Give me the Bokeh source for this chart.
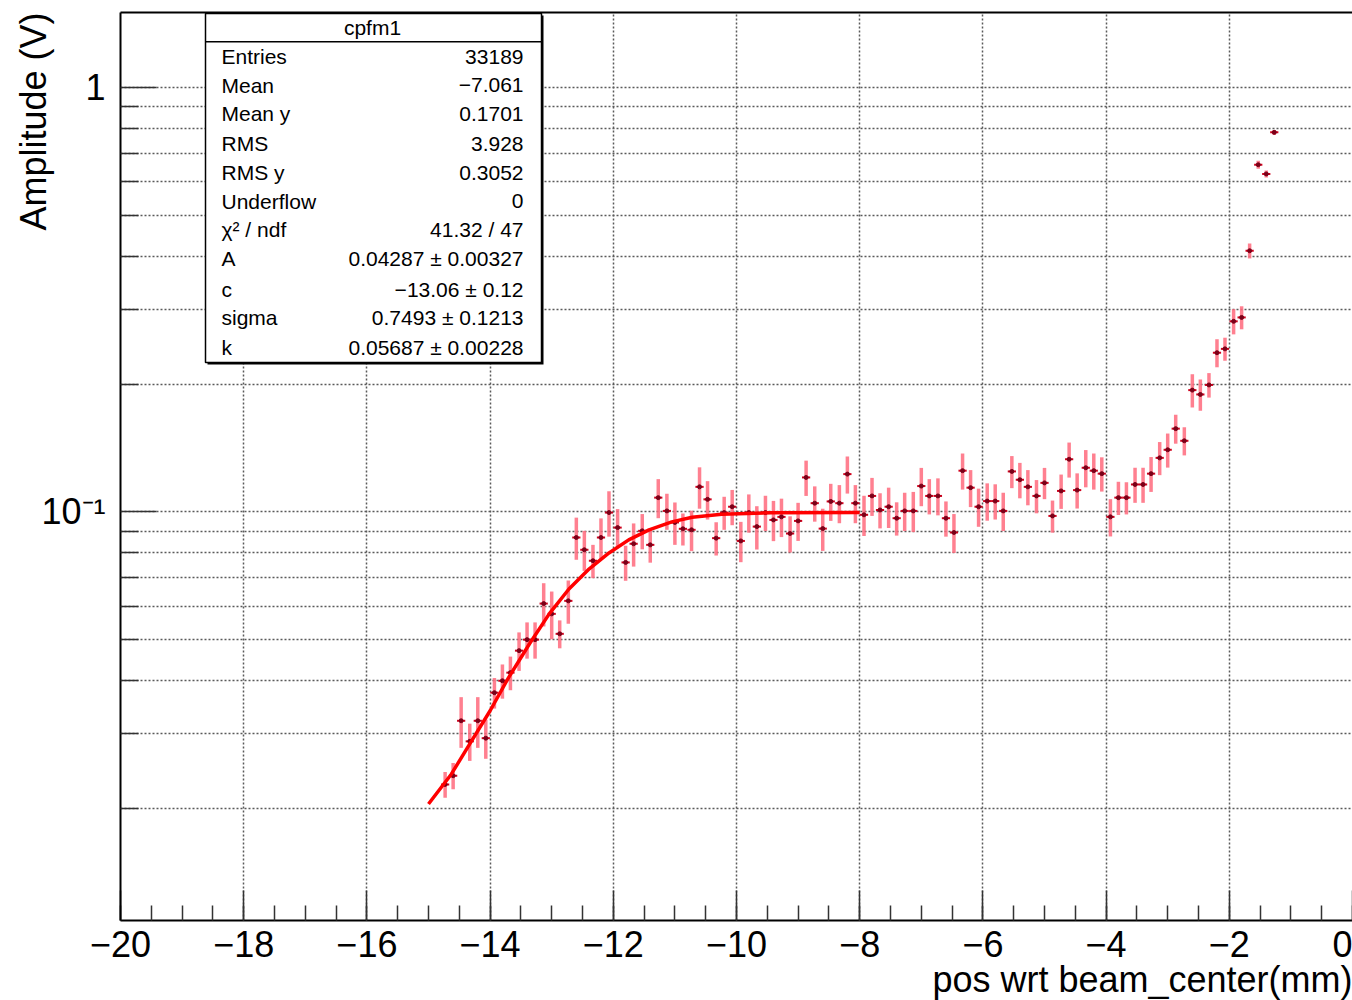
import numpy as np
from bokeh.plotting import figure
from bokeh.models import (ColumnDataSource, Range1d, LinearAxis, FixedTicker,
                          SingleIntervalTicker, Label, BoxAnnotation, Title)
from bokeh.embed import file_html
from bokeh.resources import INLINE

# ---- histogram cpfm1: bin centres, amplitude and its error ----
pos = [-14.73, -14.60, -14.47, -14.33, -14.20, -14.07, -13.93, -13.80, -13.67, -13.53,
       -13.40, -13.27, -13.13, -13.00, -12.87, -12.73, -12.60, -12.47, -12.33, -12.20,
       -12.07, -11.93, -11.80, -11.67, -11.53, -11.40, -11.27, -11.13, -11.00, -10.87,
       -10.73, -10.60, -10.47, -10.33, -10.20, -10.07, -9.93, -9.80, -9.67, -9.53,
       -9.40, -9.27, -9.13, -9.00, -8.87, -8.73, -8.60, -8.47, -8.33, -8.20,
       -8.07, -7.93, -7.80, -7.67, -7.53, -7.40, -7.27, -7.13, -7.00, -6.87,
       -6.73, -6.60, -6.47, -6.33, -6.20, -6.07, -5.93, -5.80, -5.67, -5.53,
       -5.40, -5.27, -5.13, -5.00, -4.87, -4.73, -4.60, -4.47, -4.33, -4.20,
       -4.07, -3.93, -3.80, -3.67, -3.53, -3.40, -3.27, -3.13, -3.00, -2.87,
       -2.73, -2.60, -2.47, -2.33, -2.20, -2.07, -1.93, -1.80, -1.67, -1.53,
       -1.40, -1.27]

amp = [0.0228, 0.0239, 0.0322, 0.0288, 0.0322, 0.0293, 0.0375, 0.0400, 0.0418, 0.0471,
       0.0500, 0.0500, 0.0608, 0.0575, 0.0516, 0.0617, 0.0870, 0.0814, 0.0767, 0.0870,
       0.0996, 0.0918, 0.0760, 0.0841, 0.0902, 0.0836, 0.1080, 0.1005, 0.0944, 0.0912,
       0.0907, 0.1145, 0.1070, 0.0867, 0.0996, 0.1028, 0.0854, 0.0996, 0.0923, 0.0996,
       0.0957, 0.0973, 0.0889, 0.0952, 0.1205, 0.1048, 0.0913, 0.1058, 0.1048, 0.1227,
       0.1048, 0.0984, 0.1090, 0.1010, 0.1028, 0.0966, 0.1005, 0.1005, 0.1150, 0.1090,
       0.1090, 0.0966, 0.0894, 0.1250, 0.1140, 0.1028, 0.1060, 0.1060, 0.1005, 0.1245,
       0.1190, 0.1145, 0.1090, 0.1170, 0.0978, 0.1120, 0.1330, 0.1125, 0.1270, 0.1250,
       0.1230, 0.0973, 0.1080, 0.1080, 0.1160, 0.1160, 0.1230, 0.1340, 0.1400, 0.1570,
       0.1470, 0.1935, 0.1890, 0.1990, 0.2370, 0.2420, 0.2810, 0.2870, 0.4120, 0.6570,
       0.6250, 0.7830]

amp_err = [0.0016, 0.0017, 0.0044, 0.0029, 0.0044, 0.0031, 0.0031, 0.0037, 0.0038, 0.0049,
           0.0049, 0.0049, 0.0071, 0.0074, 0.0039, 0.0072, 0.0099, 0.0088, 0.0069, 0.0095,
           0.0122, 0.0097, 0.0072, 0.0098, 0.0086, 0.0077, 0.0114, 0.0098, 0.0108, 0.0079,
           0.0099, 0.0128, 0.0111, 0.0078, 0.0089, 0.0098, 0.0093, 0.0103, 0.0108, 0.0095,
           0.0104, 0.0101, 0.0087, 0.0098, 0.0115, 0.0100, 0.0104, 0.0106, 0.0108, 0.0123,
           0.0108, 0.0107, 0.0112, 0.0096, 0.0112, 0.0087, 0.0104, 0.0109, 0.0119, 0.0104,
           0.0109, 0.0092, 0.0094, 0.0122, 0.0114, 0.0106, 0.0107, 0.0101, 0.0104, 0.0108,
           0.0114, 0.0109, 0.0098, 0.0099, 0.0085, 0.0104, 0.0126, 0.0107, 0.0128, 0.0122,
           0.0114, 0.0098, 0.0097, 0.0094, 0.0110, 0.0110, 0.0116, 0.0120, 0.0129, 0.0123,
           0.0112, 0.0174, 0.0160, 0.0132, 0.0180, 0.0151, 0.0192, 0.0179, 0.0168, 0.0143,
           0.0120, 0.0106]

bin_width = 20.0 / 150

# ---- fitted edge curve ----
fit_x = [-15.0, -14.63, -14.33, -14.0, -13.7, -13.36, -13.04, -12.72, -12.39,
         -12.07, -11.75, -11.42, -11.05, -10.72, -10.24, -9.43, -8.0]
fit_y = [0.0205, 0.0241, 0.0284, 0.0340, 0.0407, 0.0489, 0.0575, 0.0658, 0.0734,
         0.0800, 0.0859, 0.0907, 0.0947, 0.0971, 0.0987, 0.0995, 0.0997]

# ---- statistics box ----
stat_title = "cpfm1"
stat_names = ["Entries", "Mean", "Mean y", "RMS", "RMS y", "Underflow",
              "χ² / ndf", "A", "c", "sigma", "k"]
stat_values = ["33189", "−7.061", "0.1701", "3.928", "0.3052", "0",
               "41.32 / 47", "0.04287 ± 0.00327", "−13.06 ± 0.12",
               "0.7493 ± 0.1213", "0.05687 ± 0.00228"]

x_title = "pos wrt beam_center(mm)"
y_title = "Amplitude (V)"
x_ticks = [-20, -18, -16, -14, -12, -10, -8, -6, -4, -2, 0]
x_tick_labels = ["−20", "−18", "−16", "−14", "−12", "−10", "−8", "−6", "−4", "−2", "0"]
y_ticks = [0.1, 1]
y_tick_labels = ["10⁻¹", "1"]
y_minor = [0.02, 0.03, 0.04, 0.05, 0.06, 0.07, 0.08, 0.09,
           0.2, 0.3, 0.4, 0.5, 0.6, 0.7, 0.8, 0.9]

FONT = "Liberation Sans"
W, H = 1352, 1000
LEFT, TOP, BOTTOM = 120, 12, 80

p = figure(width=W, height=H, y_axis_type="log",
           x_range=Range1d(-20, 0), y_range=Range1d(0.0109, 1.5),
           output_backend="svg", toolbar_location=None,
           min_border_left=LEFT, min_border_right=0,
           min_border_top=TOP, min_border_bottom=BOTTOM)
p.background_fill_color = "white"
p.border_fill_color = "white"
p.outline_line_color = None

# axes
xa = p.xaxis[0]
xa.ticker = SingleIntervalTicker(interval=2, num_minor_ticks=4)
xa.major_label_overrides = dict(zip(x_ticks, x_tick_labels))
ya = p.yaxis[0]
ya.ticker = FixedTicker(ticks=y_ticks, minor_ticks=y_minor)
ya.major_label_overrides = dict(zip(y_ticks, y_tick_labels))

for ax in (xa, ya):
    ax.axis_line_color = "black"
    ax.axis_line_width = 2
    ax.major_tick_out = 0
    ax.minor_tick_out = 0
    ax.major_tick_line_color = "#333333"
    ax.minor_tick_line_color = "#333333"
    ax.major_tick_line_width = 1.5
    ax.minor_tick_line_width = 1.5
    ax.major_label_text_font = FONT
    ax.major_label_text_font_size = "36px"
    ax.major_label_text_color = "black"

xa.major_tick_in = 30
xa.minor_tick_in = 15
xa.major_label_standoff = 10
ya.major_tick_in = 36
ya.minor_tick_in = 18
ya.major_label_standoff = 15

top_axis = LinearAxis(ticker=FixedTicker(ticks=[]), axis_line_width=2,
                      axis_line_color="black", major_tick_out=0, minor_tick_out=0,
                      major_label_text_font_size="0px")
p.add_layout(top_axis, "above")

# axis titles, flush with the far ends of the axes
p.add_layout(Title(text=x_title, align="right", vertical_align="middle",
                   text_font=FONT, text_font_size="36px", text_font_style="normal",
                   text_color="black", standoff=-3), "below")
p.add_layout(Title(text=y_title, align="right", vertical_align="middle",
                   text_font=FONT, text_font_size="36px", text_font_style="normal",
                   text_color="black", standoff=-32), "left")

# dotted grid
for g in (p.xgrid, p.ygrid):
    g.grid_line_color = "#5a5a5a"
    g.grid_line_dash = "2 2"
    g.grid_line_width = 1.5
p.ygrid.minor_grid_line_color = "#5a5a5a"
p.ygrid.minor_grid_line_dash = "2 2"
p.ygrid.minor_grid_line_width = 1.5

# data with error bars
pos_a = np.array(pos)
amp_a = np.array(amp)
err_a = np.array(amp_err)
src = ColumnDataSource(dict(
    x=pos_a, y=amp_a,
    lo=amp_a - err_a, hi=amp_a + err_a,
    xl=pos_a - bin_width / 2, xr=pos_a + bin_width / 2,
))
p.segment(x0="x", y0="lo", x1="x", y1="hi", source=src,
          line_color="#ff6a7d", line_width=3.5, line_alpha=0.85)
p.segment(x0="xl", y0="y", x1="xr", y1="y", source=src,
          line_color="#d0001c", line_width=2)
p.scatter("x", "y", source=src, size=4, color="#7a0018")

# fit curve
p.line(fit_x, fit_y, line_color="red", line_width=3.5)

# statistics box (screen units relative to the frame)
def sx(px):
    return px - LEFT

def sy(py):
    return (H - BOTTOM) - py

box_l, box_r, box_t, box_b = 205, 541, 13, 362
p.add_layout(BoxAnnotation(left=sx(box_l + 2), right=sx(box_r + 2), top=sy(box_t + 2),
                           bottom=sy(box_b + 2), left_units="screen", right_units="screen",
                           top_units="screen", bottom_units="screen",
                           fill_color="black", fill_alpha=1, line_color=None))
p.add_layout(BoxAnnotation(left=sx(box_l), right=sx(box_r), top=sy(box_t), bottom=sy(box_b),
                           left_units="screen", right_units="screen",
                           top_units="screen", bottom_units="screen",
                           fill_color="white", fill_alpha=1,
                           line_color="black", line_width=1.5, line_alpha=1))
p.add_layout(BoxAnnotation(left=sx(box_l), right=sx(box_r), top=sy(40.5), bottom=sy(42),
                           left_units="screen", right_units="screen",
                           top_units="screen", bottom_units="screen",
                           fill_color="black", fill_alpha=1, line_color=None))
p.add_layout(Label(x=sx(372), y=sy(27), x_units="screen", y_units="screen",
                   text=stat_title, text_font=FONT, text_font_size="21px",
                   text_align="center", text_baseline="middle", text_color="black"))

row_y = [56, 84.5, 113, 143, 172, 200.5, 229, 258, 289, 317, 346.5]
for name, val, ry in zip(stat_names, stat_values, row_y):
    p.add_layout(Label(x=sx(221), y=sy(ry), x_units="screen", y_units="screen",
                       text=name, text_font=FONT, text_font_size="21px",
                       text_align="left", text_baseline="middle", text_color="black"))
    p.add_layout(Label(x=sx(523), y=sy(ry), x_units="screen", y_units="screen",
                       text=val, text_font=FONT, text_font_size="21px",
                       text_align="right", text_baseline="middle", text_color="black"))

open("out.html", "w").write(file_html(p, INLINE))
